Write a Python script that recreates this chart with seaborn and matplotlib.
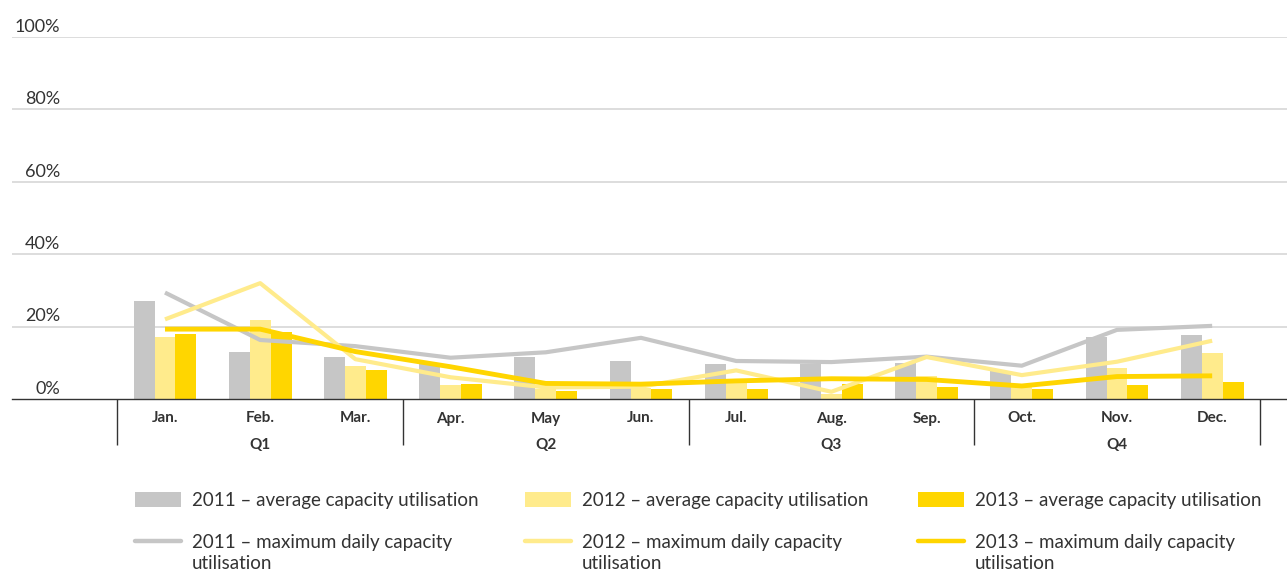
import numpy as np
import pandas as pd
import matplotlib
matplotlib.use("Agg")
import matplotlib.pyplot as plt
import matplotlib.transforms as mtransforms
from matplotlib.patches import Patch
from matplotlib.lines import Line2D
import seaborn as sns

# ---- data -------------------------------------------------------------
months = ["Jan.", "Feb.", "Mar.", "Apr.", "May", "Jun.",
          "Jul.", "Aug.", "Sep.", "Oct.", "Nov.", "Dec."]
quarters = ["Q1", "Q2", "Q3", "Q4"]
years = ["2011", "2012", "2013"]

avg_2011 = [27.1, 13.0, 11.7, 9.7, 11.7, 10.5, 9.7, 9.7, 10.0, 7.8, 17.2, 17.6]
avg_2012 = [17.1, 21.7, 9.1, 3.9, 2.9, 3.0, 4.3, 1.3, 6.3, 3.3, 8.7, 12.6]
avg_2013 = [18.0, 18.4, 8.0, 4.2, 2.2, 2.9, 2.9, 4.1, 3.2, 2.9, 3.8, 4.7]

max_2011 = [29.4, 16.3, 14.6, 11.4, 12.9, 16.9, 10.5, 10.2, 11.7, 9.2, 19.1, 20.2]
max_2012 = [22.0, 32.0, 11.0, 6.0, 3.2, 3.4, 7.9, 2.0, 11.6, 6.6, 10.3, 16.1]
max_2013 = [19.3, 19.3, 13.1, 8.9, 4.3, 4.1, 5.0, 5.6, 5.4, 3.6, 6.2, 6.4]

yticks = [0, 20, 40, 60, 80, 100]
ytick_labels = ["0%", "20%", "40%", "60%", "80%", "100%"]

bar_colors = {"2011": "#c6c6c6", "2012": "#ffeb8c", "2013": "#ffd600"}
line_colors = {"2011": "#c6c6c6", "2012": "#ffeb8c", "2013": "#ffd500"}
line_widths = {"2011": 3.0, "2012": 3.0, "2013": 3.5}

avg = {"2011": avg_2011, "2012": avg_2012, "2013": avg_2013}
mx = {"2011": max_2011, "2012": max_2012, "2013": max_2013}

bars_df = pd.DataFrame([
    {"month": m, "year": y, "value": v}
    for y in years for m, v in zip(months, avg[y])
])
lines_df = pd.DataFrame([
    {"pos": i, "year": y, "value": v}
    for y in years for i, v in enumerate(mx[y])
])

# ---- figure -----------------------------------------------------------
sns.set_theme(style="white")
plt.rcParams["font.family"] = ["Lato", "DejaVu Sans"]

W, H = 1287, 571
fig = plt.figure(figsize=(W / 100, H / 100), dpi=100)
ax = fig.add_axes([12 / W, 1 - 399 / H, (W - 12) / W, (399 - 37) / H])

text_color = "#333333"

for t in yticks[1:]:
    ax.axhline(t, color="#d3d3d3", lw=1.1, zorder=0)

sns.barplot(data=bars_df, x="month", y="value", hue="year",
            order=months, hue_order=years, palette=bar_colors,
            width=0.66, gap=0, saturation=1, linewidth=0,
            legend=False, ax=ax, zorder=2)

for y in years:
    sub = lines_df[lines_df["year"] == y]
    sns.lineplot(data=sub, x="pos", y="value", color=line_colors[y],
                 lw=line_widths[y], ax=ax, zorder=3,
                 solid_joinstyle="round", solid_capstyle="butt")

ax.set_xlim(-1.607, 11.786)
ax.set_ylim(0, 100)
for s in ["top", "right", "left"]:
    ax.spines[s].set_visible(False)
ax.spines["bottom"].set_color(text_color)
ax.spines["bottom"].set_linewidth(1.0)

ax.set_xlabel("")
ax.set_ylabel("")
ax.set_yticks([])
ax.set_xticks(range(len(months)))
ax.set_xticklabels(months, fontsize=11, fontweight="bold", color=text_color)
ax.tick_params(axis="x", length=0, pad=9)

# y labels sit just above their gridlines
ylab_tr = mtransforms.blended_transform_factory(fig.transFigure, ax.transData)
for t, lab in zip(yticks, ytick_labels):
    ax.text(60 / W, t + 0.6, lab, transform=ylab_tr, ha="right", va="bottom",
            fontsize=13, color=text_color)

# quarter separators and labels
n_q = len(quarters)
per_q = len(months) // n_q
bounds = [q * per_q - 0.5 for q in range(n_q + 1)]
ax.vlines(bounds, -12.7, 0, colors=text_color, lw=1.0, clip_on=False)
for q, lab in enumerate(quarters):
    ax.text(q * per_q + (per_q - 1) / 2, -12.8, lab, ha="center", va="center",
            fontsize=11, fontweight="bold", color=text_color, clip_on=False)

# ---- legend: one block per year ---------------------------------------
leg_x = {"2011": 135, "2012": 525, "2013": 918}
legend_size = 13.5
wrapped = []
for y in years:
    handles = [
        Patch(facecolor=bar_colors[y], edgecolor="none"),
        Line2D([], [], color=line_colors[y], lw=3.2, solid_capstyle="round"),
    ]
    labels = [f"{y} – average capacity utilisation",
              f"{y} – maximum daily capacity"]
    leg = fig.legend(handles, labels, loc="upper left",
                     bbox_to_anchor=(leg_x[y] / W, 1 - 492 / H),
                     frameon=False, borderpad=0, borderaxespad=0,
                     handlelength=2.45, handleheight=0.8, handletextpad=0.6,
                     labelspacing=1.32, prop={"size": legend_size})
    for t in leg.get_texts():
        t.set_color(text_color)
    wrapped.append(leg.get_texts()[1])

# continuation line of the two-line labels
fig.canvas.draw()
renderer = fig.canvas.get_renderer()
for t in wrapped:
    bb = t.get_window_extent(renderer)
    fig.text(bb.x0 / W, (bb.y0 - 21) / H, "utilisation", ha="left", va="bottom",
             fontsize=legend_size, color=text_color)

fig.savefig("out.png", dpi=100)
